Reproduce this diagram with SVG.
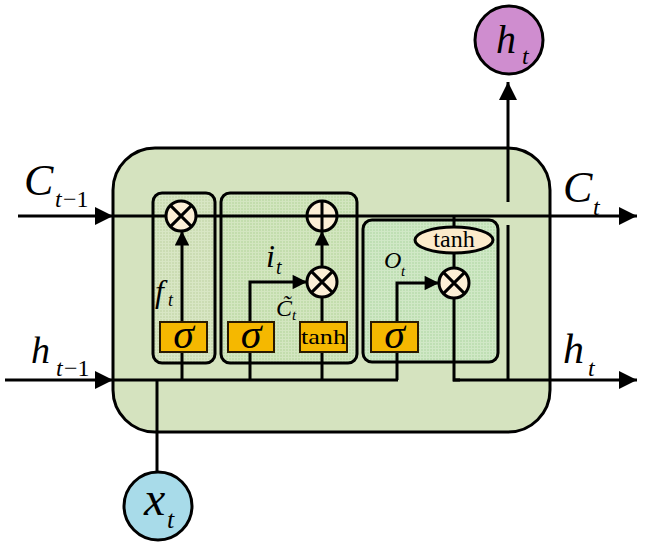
<svg xmlns="http://www.w3.org/2000/svg" width="646" height="546" viewBox="0 0 646 546">
<defs>
<style>
.ln{stroke:#000;stroke-width:3;fill:none}
.gate{stroke:#000;stroke-width:3}
.sig{fill:#f5b800;stroke:#2a1a00;stroke-width:2}
.op{fill:#fcefd6;stroke:#000;stroke-width:3}
.mi{font-family:"Liberation Serif",serif;font-style:italic;fill:#000}
.rm{font-family:"Liberation Serif",serif;fill:#000}
</style>
<marker id="ah" viewBox="0 0 10 10" refX="10" refY="5" markerWidth="6.5" markerHeight="6" markerUnits="strokeWidth" orient="auto">
<path d="M0,0 L10,5 L0,10 Z" fill="#000"/>
</marker>
<marker id="ahs" viewBox="0 0 10 10" refX="10" refY="5" markerWidth="5.2" markerHeight="4.8" markerUnits="strokeWidth" orient="auto">
<path d="M0,0 L10,5 L0,10 Z" fill="#000"/>
</marker>
<pattern id="grid1" width="3" height="3" patternUnits="userSpaceOnUse">
<rect width="3" height="3" fill="#cbdcb3"/>
<path d="M0,0.5H3M0.5,0V3" stroke="#d8e6c4" stroke-width="1"/>
</pattern>
<pattern id="grid2" width="3" height="3" patternUnits="userSpaceOnUse">
<rect width="3" height="3" fill="#c3ddad"/>
<path d="M0,0.5H3M0.5,0V3" stroke="#d3e6c0" stroke-width="1"/>
</pattern>
<pattern id="grid3" width="3" height="3" patternUnits="userSpaceOnUse">
<rect width="3" height="3" fill="#bfdfb4"/>
<path d="M0,0.5H3M0.5,0V3" stroke="#d0e8c6" stroke-width="1"/>
</pattern>
</defs>

<g id="cell">
<rect x="113" y="148" width="437" height="284" rx="42" fill="#d5e3bf" stroke="#000" stroke-width="3"/>
</g>

<g id="forget-gate-box"><rect class="gate" x="153" y="193" width="62" height="170" rx="9" fill="url(#grid1)"/></g>
<g id="input-gate-box"><rect class="gate" x="221" y="193" width="136" height="170" rx="9" fill="url(#grid2)"/></g>
<g id="output-gate-box"><rect class="gate" x="363" y="220" width="135" height="142" rx="9" fill="url(#grid3)"/></g>

<g id="connectors">
<line class="ln" x1="18" y1="216" x2="113" y2="216" marker-end="url(#ah)"/>
<line class="ln" x1="113" y1="216" x2="637" y2="216" marker-end="url(#ah)"/>
<line class="ln" x1="5" y1="380" x2="113" y2="380" marker-end="url(#ah)"/>
<line class="ln" x1="113" y1="380" x2="398" y2="380"/>
<line class="ln" x1="453" y1="380" x2="637" y2="380" marker-end="url(#ah)"/>
<line class="ln" x1="157" y1="380" x2="157" y2="472"/>
<line class="ln" x1="182" y1="380" x2="182" y2="231" marker-end="url(#ahs)"/>
<polyline class="ln" points="250,380 250,282 307,282" marker-end="url(#ahs)"/>
<line class="ln" x1="322" y1="380" x2="322" y2="297"/>
<line class="ln" x1="322" y1="267" x2="322" y2="231" marker-end="url(#ahs)"/>
<polyline class="ln" points="397,380 397,283 439,283" marker-end="url(#ahs)"/>
<line class="ln" x1="454" y1="216" x2="454" y2="268"/>
<polyline class="ln" points="454,298 454,380 460,380"/>
<line class="ln" x1="508" y1="380" x2="508" y2="225"/>
<line class="ln" x1="508" y1="202" x2="508" y2="82" marker-end="url(#ah)"/>
</g>

<g id="forget-mult"><circle class="op" cx="181" cy="216" r="15"/><path class="ln" d="M170.4,205.4L191.6,226.6M191.6,205.4L170.4,226.6"/></g>
<g id="cell-add"><circle class="op" cx="322" cy="216" r="15"/><path class="ln" d="M307,216H337M322,201V231"/></g>
<g id="input-mult"><circle class="op" cx="322" cy="282" r="15"/><path class="ln" d="M311.4,271.4L332.6,292.6M332.6,271.4L311.4,292.6"/></g>
<g id="output-mult"><circle class="op" cx="454" cy="283" r="15"/><path class="ln" d="M443.4,272.4L464.6,293.6M464.6,272.4L443.4,293.6"/></g>
<g id="output-tanh"><ellipse cx="454" cy="240" rx="39" ry="13" fill="#fcebcb" stroke="#000" stroke-width="3"/><text class="rm" x="454" y="247" font-size="24" text-anchor="middle">tanh</text></g>

<g id="forget-sigma"><rect class="sig" x="160" y="322" width="47" height="30"/><text class="mi" x="183.5" y="348" font-size="42" text-anchor="middle">σ</text></g>
<g id="input-sigma"><rect class="sig" x="228" y="322" width="46" height="30"/><text class="mi" x="251" y="348" font-size="42" text-anchor="middle">σ</text></g>
<g id="candidate-tanh"><rect class="sig" x="300" y="322" width="47" height="30"/><text class="rm" x="323.5" y="344" font-size="22" text-anchor="middle" textLength="45" lengthAdjust="spacingAndGlyphs">tanh</text></g>
<g id="output-sigma"><rect class="sig" x="371" y="322" width="47" height="30"/><text class="mi" x="394.5" y="348" font-size="42" text-anchor="middle">σ</text></g>

<g id="h-out-node"><circle cx="509" cy="40" r="34" fill="#cf8dcf" stroke="#000" stroke-width="3"/><text class="mi" x="496" y="53" font-size="40">h</text><text class="mi" x="522" y="64" font-size="24">t</text></g>
<g id="x-in-node"><circle cx="158" cy="506" r="34" fill="#a8dbe9" stroke="#000" stroke-width="3"/><text class="mi" x="144" y="515" font-size="48">x</text><text class="mi" x="167" y="528" font-size="26">t</text></g>

<g id="labels">
<text class="mi" x="24" y="195" font-size="44">C</text><text class="mi" x="55" y="207" font-size="24">t</text><text class="rm" x="63" y="207" font-size="24">−1</text>
<text class="mi" x="31" y="363" font-size="38">h</text><text class="mi" x="56" y="376" font-size="24">t</text><text class="rm" x="64" y="376" font-size="24">−1</text>
<text class="mi" x="563" y="202" font-size="44">C</text><text class="mi" x="593" y="215" font-size="24">t</text>
<text class="mi" x="563" y="363" font-size="42">h</text><text class="mi" x="588" y="376" font-size="24">t</text>
<text class="mi" x="155" y="302" font-size="32">f</text><text class="mi" x="168" y="306" font-size="18">t</text>
<text class="mi" x="266" y="267" font-size="32">i</text><text class="mi" x="276" y="274" font-size="20">t</text>
<text class="mi" x="276" y="316" font-size="24" fill="#444">C&#x303;</text><text class="mi" x="292" y="320" font-size="15" fill="#444">t</text>
<text class="mi" x="384" y="268" font-size="24" fill="#333">O</text><text class="mi" x="401" y="276" font-size="15" fill="#333">t</text>
</g>
</svg>
